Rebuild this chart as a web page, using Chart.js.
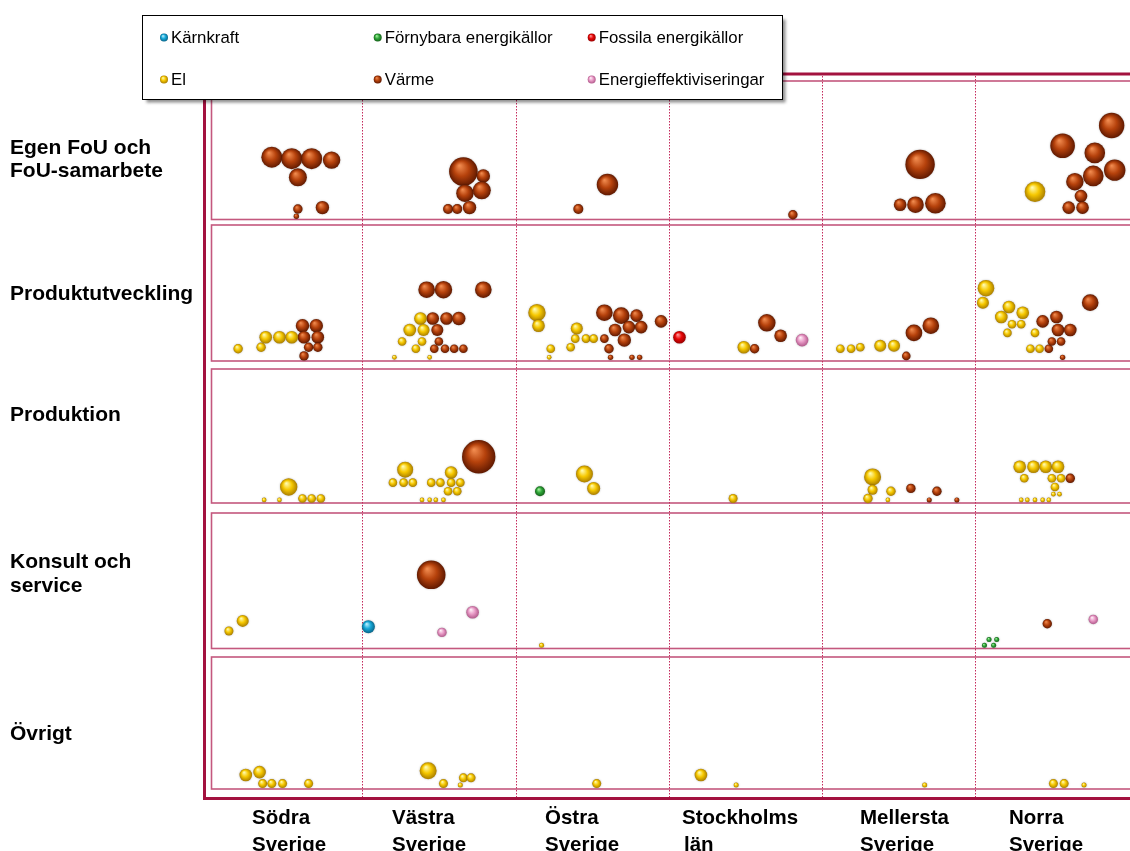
<!DOCTYPE html>
<html>
<head>
<meta charset="utf-8">
<script src="https://cdn.jsdelivr.net/npm/chart.js@4.4.1/dist/chart.umd.min.js"></script>
<style>
  html, body { margin: 0; padding: 0; background: #ffffff; overflow: hidden; }
  canvas { display: block; }
</style>
</head>
<body>
<canvas id="chart" width="1150" height="851"></canvas>
<script>
// Regions (columns) and activity areas (rows)
const regions = [['Södra', 'Sverige'], ['Västra', 'Sverige'], ['Östra', 'Sverige'],
                 ['Stockholms', 'län'], ['Mellersta', 'Sverige'], ['Norra', 'Sverige']];
const areas = [['Egen FoU och', 'FoU-samarbete'], ['Produktutveckling'], ['Produktion'],
               ['Konsult och', 'service'], ['Övrigt']];

// Each entry: [region index, area index, x within cell (0-100), y within cell (0-100), bubble size]
const karnkraft = [[1, 3, 4, 19, 6.5]];

const fornybara = [[2, 2, 16, 13, 5], [5, 3, 6, 6, 2.5], [5, 3, 9, 10, 2.5], [5, 3, 14, 10, 2.5], [5, 3, 12, 6, 2.5]];

const fossila = [[3, 1, 7, 20, 6.3]];

const el = [
  [5, 0, 39, 21, 10.3],
  [0, 1, 19, 12, 4.7], [0, 1, 34, 13, 4.7], [0, 1, 37, 20, 6.3], [0, 1, 46, 20, 6.3], [0, 1, 54, 20, 6.3],
  [1, 1, 38, 33, 6.3], [1, 1, 31, 25, 6.3], [1, 1, 40, 25, 6], [1, 1, 26, 17, 4.3], [1, 1, 39, 17, 4.3],
  [1, 1, 35, 12, 4.3], [1, 1, 21, 6, 2.3], [1, 1, 44, 6, 2.3],
  [2, 1, 14, 37, 8.7], [2, 1, 15, 28, 6.3], [2, 1, 23, 12, 4.3], [2, 1, 22, 6, 2.3], [2, 1, 40, 26, 6],
  [2, 1, 39, 19, 4.3], [2, 1, 46, 19, 4.3], [2, 1, 51, 19, 4.3], [2, 1, 36, 13, 4.3],
  [3, 1, 49, 13, 6.3],
  [4, 1, 12, 12, 4.3], [4, 1, 19, 12, 4.3], [4, 1, 25, 13, 4.3], [4, 1, 38, 14, 6], [4, 1, 47, 14, 6],
  [5, 1, 7, 54, 8.3], [5, 1, 5, 44, 6], [5, 1, 22, 41, 6.3], [5, 1, 31, 37, 6.3], [5, 1, 17, 34, 6.3],
  [5, 1, 24, 29, 4.3], [5, 1, 30, 29, 4.3], [5, 1, 21, 23, 4.3], [5, 1, 39, 23, 4.3], [5, 1, 36, 12, 4.3],
  [5, 1, 42, 12, 4.3],
  [0, 2, 36, 7, 2.3], [0, 2, 46, 7, 2.3], [0, 2, 52, 16, 8.7], [0, 2, 61, 8, 4.3], [0, 2, 67, 8, 4.3],
  [0, 2, 73, 8, 4.3],
  [1, 2, 28, 28, 8], [1, 2, 20, 19, 4.3], [1, 2, 27, 19, 4.3], [1, 2, 33, 19, 4.3], [1, 2, 45, 19, 4.3],
  [1, 2, 51, 19, 4.3], [1, 2, 58, 26, 6.3], [1, 2, 58, 19, 4.3], [1, 2, 64, 19, 4.3], [1, 2, 56, 13, 4.3],
  [1, 2, 62, 13, 4.3], [1, 2, 39, 7, 2.3], [1, 2, 44, 7, 2.3], [1, 2, 48, 7, 2.3], [1, 2, 53, 7, 2.3],
  [2, 2, 45, 25, 8.5], [2, 2, 51, 15, 6.5],
  [3, 2, 42, 8, 4.5],
  [4, 2, 33, 23, 8.5], [4, 2, 33, 14, 5], [4, 2, 30, 8, 4.7], [4, 2, 45, 13, 4.7], [4, 2, 43, 7, 2.3],
  [5, 2, 29, 30, 6.3], [5, 2, 38, 30, 6.3], [5, 2, 46, 30, 6.3], [5, 2, 54, 30, 6.3], [5, 2, 32, 22, 4.3],
  [5, 2, 50, 22, 4.3], [5, 2, 56, 22, 4.3], [5, 2, 52, 16, 4.3], [5, 2, 51, 11, 2.3], [5, 2, 55, 11, 2.3],
  [5, 2, 30, 7, 2.3], [5, 2, 34, 7, 2.3], [5, 2, 39, 7, 2.3], [5, 2, 44, 7, 2.3], [5, 2, 48, 7, 2.3],
  [0, 3, 13, 16, 4.5], [0, 3, 22, 23, 6], [2, 3, 17, 6, 2.5],
  [0, 4, 24, 16, 6.3], [0, 4, 33, 18, 6.3], [0, 4, 35, 10, 4.5], [0, 4, 41, 10, 4.5], [0, 4, 48, 10, 4.5],
  [0, 4, 65, 10, 4.5],
  [1, 4, 43, 19, 8.5], [1, 4, 53, 10, 4.5], [1, 4, 64, 9, 2.5], [1, 4, 66, 14, 4.5], [1, 4, 71, 14, 4.5],
  [2, 4, 53, 10, 4.5], [3, 4, 21, 16, 6.3], [3, 4, 44, 9, 2.5], [4, 4, 67, 9, 2.5],
  [5, 4, 51, 10, 4.5], [5, 4, 58, 10, 4.5], [5, 4, 71, 9, 2.5]
];

const varme = [
  [0, 0, 41, 45, 10.5], [0, 0, 54, 44, 10.5], [0, 0, 67, 44, 10.5], [0, 0, 80, 43, 8.7], [0, 0, 58, 31, 9],
  [0, 0, 58, 9, 4.7], [0, 0, 57, 4, 2.7], [0, 0, 74, 10, 6.7],
  [1, 0, 66, 35, 14.3], [1, 0, 79, 32, 6.7], [1, 0, 67, 20, 8.7], [1, 0, 78, 22, 9], [1, 0, 56, 9, 5],
  [1, 0, 62, 9, 5], [1, 0, 70, 10, 6.7],
  [2, 0, 60, 26, 10.7], [2, 0, 41, 9, 5],
  [3, 0, 81, 5, 4.7],
  [4, 0, 64, 40, 14.7], [4, 0, 51, 12, 6.3], [4, 0, 61, 12, 8.3], [4, 0, 74, 13, 10.3],
  [5, 0, 57, 53, 12.3], [5, 0, 89, 67, 12.7], [5, 0, 78, 48, 10.3], [5, 0, 77, 32, 10.3], [5, 0, 91, 36, 10.7],
  [5, 0, 65, 28, 8.7], [5, 0, 69, 18, 6.3], [5, 0, 61, 10, 6.3], [5, 0, 70, 10, 6.3],
  [0, 1, 61, 28, 6.7], [0, 1, 70, 28, 6.7], [0, 1, 62, 20, 6.3], [0, 1, 71, 20, 6.3], [0, 1, 65, 13, 4.7],
  [0, 1, 71, 13, 4.7], [0, 1, 62, 7, 4.7],
  [1, 1, 42, 53, 8.3], [1, 1, 53, 53, 8.7], [1, 1, 79, 53, 8.3], [1, 1, 46, 33, 6.3], [1, 1, 55, 33, 6.3],
  [1, 1, 63, 33, 6.7], [1, 1, 49, 25, 6], [1, 1, 50, 17, 4.3], [1, 1, 47, 12, 4.3], [1, 1, 54, 12, 4.3],
  [1, 1, 60, 12, 4.3], [1, 1, 66, 12, 4.3],
  [2, 1, 58, 19, 4.3], [2, 1, 58, 37, 8.3], [2, 1, 69, 35, 8.3], [2, 1, 79, 35, 6.3], [2, 1, 65, 25, 6.3],
  [2, 1, 74, 27, 6.3], [2, 1, 82, 27, 6.3], [2, 1, 71, 18, 6.7], [2, 1, 61, 12, 4.7], [2, 1, 95, 31, 6.3],
  [2, 1, 62, 6, 2.7], [2, 1, 76, 6, 2.7], [2, 1, 81, 6, 2.7],
  [3, 1, 64, 30, 8.7], [3, 1, 73, 21, 6.3], [3, 1, 56, 12, 4.7],
  [4, 1, 60, 23, 8.3], [4, 1, 71, 28, 8.3], [4, 1, 55, 7, 4.3],
  [5, 1, 48, 12, 4.3], [5, 1, 44, 31, 6.3], [5, 1, 53, 34, 6.3], [5, 1, 54, 25, 6.3], [5, 1, 62, 25, 6.3],
  [5, 1, 50, 17, 4.3], [5, 1, 56, 17, 4.3], [5, 1, 75, 44, 8.3], [5, 1, 57, 6, 2.7],
  [1, 2, 76, 37, 16.7], [4, 2, 58, 15, 4.7], [4, 2, 75, 13, 4.7], [4, 2, 70, 7, 2.5], [4, 2, 88, 7, 2.5],
  [5, 2, 62, 22, 4.7],
  [1, 3, 45, 55, 14.3], [5, 3, 47, 21, 4.7]
];

const energieff = [[3, 1, 87, 18, 6.3], [1, 3, 72, 29, 6.3], [1, 3, 52, 15, 4.7], [5, 3, 77, 24, 4.7]];

// Shading per series: highlight, body, rim
const series = [
  { label: 'Kärnkraft', rows: karnkraft, shade: ['#b8f0ff', '#16a8d8', '#086488'] },
  { label: 'Förnybara energikällor', rows: fornybara, shade: ['#a8f0a0', '#2ea638', '#145e18'] },
  { label: 'Fossila energikällor', rows: fossila, shade: ['#ff9a9a', '#e80606', '#960000'] },
  { label: 'El', rows: el, shade: ['#fffbb0', '#f6c800', '#a87c00'] },
  { label: 'Värme', rows: varme, shade: ['#f08a4e', '#b6420c', '#5e1800'] },
  { label: 'Energieffektiviseringar', rows: energieff, shade: ['#fff0f8', '#e89ac6', '#b0588a'] }
];

const CELL = 100;

function sphere(g, x, y, r, c) {
  const grad = g.createRadialGradient(x - r * 0.28, y - r * 0.42, r * 0.04, x, y, r * 1.02);
  grad.addColorStop(0, c[0]);
  grad.addColorStop(0.5, c[1]);
  grad.addColorStop(1, c[2]);
  return grad;
}

const datasets = series.map(s => ({
  label: s.label,
  data: s.rows.map(([reg, area, lx, ly, r]) => ({
    x: reg * CELL + lx,
    y: (areas.length - 1 - area) * CELL + ly,
    r: r
  })),
  borderWidth: 0,
  clip: false,
  backgroundColor: (c) => {
    const ch = c.chart;
    if (c.type !== 'data' || !c.raw || !ch.scales || !ch.scales.x || !ch.scales.y) return s.shade[1];
    const px = ch.scales.x.getPixelForValue(c.raw.x);
    const py = ch.scales.y.getPixelForValue(c.raw.y);
    if (!Number.isFinite(px) || !Number.isFinite(py)) return s.shade[1];
    return sphere(ch.ctx, px, py, c.raw.r, s.shade);
  }
}));

const FRAME = '#a3123f';
const PANEL = '#c4587e';
const SEP = '#c42a5c';
const FONT = '"Liberation Sans", Arial, Helvetica, sans-serif';

// Decoration layout
const panelTopInset = 3;
const panelBottomInset = [2.5, 5, 7, 5.5, 9];
const rowLabelBaselines = [[154, 177], [300], [421], [568, 592], [740]];
const colLabelX = [[252, 252], [392, 392], [545, 545], [682, 684], [860, 860], [1009, 1009]];
const colLabelBaselines = [824, 851];
const legendBox = { x: 142.5, y: 15.5, w: 640, h: 84 };
const legendCols = [164, 377.7, 591.7];
const legendRows = [37.5, 79.5];

const framePlugin = {
  id: 'frame',
  beforeDatasetsDraw(chart) {
    const g = chart.ctx;
    const xs = chart.scales.x, ys = chart.scales.y;
    const W = chart.width;
    g.save();
    // panels
    g.strokeStyle = PANEL;
    g.lineWidth = 1.6;
    const left = xs.getPixelForValue(0) + 2.5;
    for (let i = 0; i < areas.length; i++) {
      const top = ys.getPixelForValue((areas.length - i) * CELL) + panelTopInset;
      const bottom = ys.getPixelForValue((areas.length - 1 - i) * CELL) - panelBottomInset[i];
      g.strokeRect(left, top, W + 20 - left, bottom - top);
    }
    // dotted region separators
    g.strokeStyle = SEP;
    g.lineWidth = 1;
    g.setLineDash([1.5, 1.5]);
    for (let j = 1; j < regions.length; j++) {
      const x = Math.round(xs.getPixelForValue(j * CELL)) + 0.5;
      g.beginPath();
      g.moveTo(x, 76);
      g.lineTo(x, 797);
      g.stroke();
    }
    g.setLineDash([]);
    // outer frame
    g.strokeStyle = FRAME;
    g.lineWidth = 3;
    g.beginPath();
    g.moveTo(W + 5, 74);
    g.lineTo(204.5, 74);
    g.lineTo(204.5, 798.5);
    g.lineTo(W + 5, 798.5);
    g.stroke();
    g.restore();

    // soft edge on the bubbles
    g.save();
    g.shadowColor = 'rgba(0,0,0,0.28)';
    g.shadowBlur = 2;
  },
  afterDatasetsDraw(chart) {
    chart.ctx.restore();
  },
  afterDraw(chart) {
    const g = chart.ctx;
    g.save();
    // row labels
    g.fillStyle = '#000';
    g.font = 'bold 21px ' + FONT;
    g.textAlign = 'left';
    g.textBaseline = 'alphabetic';
    areas.forEach((lines, i) => {
      lines.forEach((t, k) => g.fillText(t, 10, rowLabelBaselines[i][k]));
    });
    // region labels
    g.font = 'bold 20.5px ' + FONT;
    regions.forEach((lines, i) => {
      lines.forEach((t, k) => g.fillText(t, colLabelX[i][k], colLabelBaselines[k]));
    });
    // legend
    g.save();
    g.shadowColor = 'rgba(0,0,0,0.45)';
    g.shadowOffsetX = 3;
    g.shadowOffsetY = 3;
    g.shadowBlur = 3;
    g.fillStyle = '#fff';
    g.fillRect(legendBox.x, legendBox.y, legendBox.w, legendBox.h);
    g.restore();
    g.strokeStyle = '#000';
    g.lineWidth = 1;
    g.strokeRect(legendBox.x, legendBox.y, legendBox.w, legendBox.h);
    g.font = '16.8px ' + FONT;
    g.textBaseline = 'middle';
    series.forEach((s, i) => {
      const cx = legendCols[i % 3];
      const cy = legendRows[Math.floor(i / 3)];
      g.beginPath();
      g.arc(cx, cy, 4, 0, Math.PI * 2);
      g.fillStyle = sphere(g, cx, cy, 4, s.shade);
      g.fill();
      g.fillStyle = '#000';
      g.fillText(s.label, cx + 7, cy + 0.5);
    });
    g.restore();
  }
};

new Chart(document.getElementById('chart'), {
  type: 'bubble',
  data: { datasets },
  options: {
    responsive: false,
    animation: false,
    events: [],
    devicePixelRatio: 1,
    // right padding lies past the visible page edge so the plot runs to x = 1128.5
    layout: { padding: { left: 209, right: 21.5, top: 78, bottom: 53 } },
    scales: {
      x: { type: 'linear', min: 0, max: regions.length * CELL, display: false },
      y: { type: 'linear', min: 0, max: areas.length * CELL, display: false }
    },
    plugins: { legend: { display: false }, tooltip: { enabled: false }, title: { display: false } }
  },
  plugins: [framePlugin]
});
</script>
</body>
</html>
